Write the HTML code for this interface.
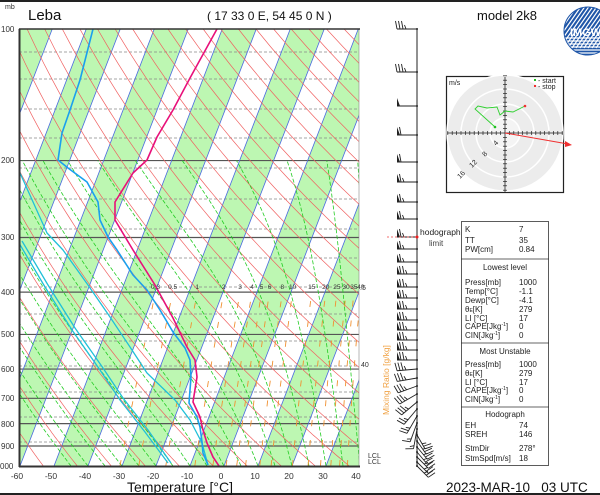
<!DOCTYPE html>
<html><head><meta charset="utf-8"><style>
html,body{margin:0;padding:0;background:#fff;}
svg{display:block;font-family:"Liberation Sans",sans-serif;}
</style></head><body>
<svg id="s" width="600" height="495" viewBox="0 0 600 495" xmlns="http://www.w3.org/2000/svg">
<defs>
<clipPath id="pc"><rect x="19" y="29" width="340" height="437"/></clipPath>
<clipPath id="lc"><circle cx="588" cy="31" r="24"/></clipPath>
</defs>
<rect x="0" y="0" width="600" height="495" fill="#fff"/>
<line x1="0" y1="1" x2="600" y2="1" stroke="#222" stroke-width="2"/>
<line x1="0" y1="494" x2="600" y2="494" stroke="#222" stroke-width="2"/>
<g id="plot" clip-path="url(#pc)"></g>
<g id="prof" clip-path="url(#pc)"></g>
<rect x="19" y="29" width="340" height="437" fill="none" stroke="#888" stroke-width="0.6"/>
<line x1="19.5" y1="29" x2="19.5" y2="467" stroke="#333" stroke-width="2"/>
<line x1="19" y1="466.5" x2="360" y2="466.5" stroke="#333" stroke-width="2"/>
<line x1="19" y1="29" x2="360" y2="29" stroke="#333" stroke-width="1.5"/>
<g font-size="8" fill="#333">
<text x="5" y="9" font-size="7">mb</text>
<text x="1" y="32">100</text><text x="1" y="163">200</text><text x="1" y="240">300</text><text x="1" y="295">400</text>
<text x="1" y="337">500</text><text x="1" y="372">600</text><text x="1" y="401">700</text><text x="1" y="427">800</text>
<text x="1" y="449">900</text><text x="0" y="469">000</text>
</g>
<g font-size="8.5" fill="#333" text-anchor="middle">
<text x="17" y="479">-60</text><text x="51" y="479">-50</text><text x="85" y="479">-40</text><text x="119" y="479">-30</text>
<text x="153" y="479">-20</text><text x="187" y="479">-10</text><text x="221" y="479">0</text><text x="255" y="479">10</text>
<text x="289" y="479">20</text><text x="323" y="479">30</text><text x="356" y="479">40</text>
</g>
<text x="180" y="492" font-size="14" text-anchor="middle" fill="#111">Temperature [°C]</text>
<text x="28" y="20" font-size="15" fill="#111">Leba</text>
<text x="207" y="20" font-size="12" fill="#111">( 17 33 0 E, 54 45 0 N )</text>
<text x="477" y="20" font-size="13" fill="#111">model 2k8</text>
<text x="446" y="492" font-size="13.5" fill="#111">2023-MAR-10 &#160; 03 UTC</text>
<text x="360" y="290" font-size="7" fill="#333">.5</text>
<text x="361" y="367" font-size="7" fill="#333">40</text>
<text transform="translate(389,415) rotate(-90)" font-size="8.5" fill="#f0a040">Mixing Ratio [g/kg]</text>
<text x="368" y="458" font-size="7" fill="#333">LCL</text>
<text x="368" y="464" font-size="7" fill="#333">LCL</text>
<g id="mrl" font-size="6.5" fill="#333"></g>
<line x1="417" y1="29" x2="417" y2="466" stroke="#222" stroke-width="1"/>
<g id="barbs" stroke="#222" stroke-width="0.9" fill="#222"></g>
<line x1="387" y1="237" x2="417" y2="237" stroke="#f04040" stroke-width="0.7" stroke-dasharray="2,2"/>
<circle cx="417" cy="237" r="1.5" fill="#f02020"/>
<text x="420" y="235" font-size="8.5" fill="#222">hodograph</text>
<text x="429" y="246" font-size="8" fill="#444">limit</text>
<rect x="446.5" y="76.5" width="117" height="116" fill="#fff" stroke="#222" stroke-width="1.2"/>
<g>
<circle cx="505" cy="133" r="58" fill="#ececec" stroke="#fff" stroke-width="1.5"/>
<circle cx="505" cy="133" r="44" fill="#ececec" stroke="#fff" stroke-width="1.5"/>
<circle cx="505" cy="133" r="29" fill="#ececec" stroke="#fff" stroke-width="1.5"/>
<circle cx="505" cy="133" r="15" fill="#f4f4f4" stroke="#fff" stroke-width="1.5"/>
<line x1="447" y1="133" x2="563" y2="133" stroke="#222" stroke-width="0.8"/>
<line x1="505" y1="77" x2="505" y2="192" stroke="#222" stroke-width="0.8"/>
<g id="hticks" stroke="#222" stroke-width="0.7"></g>
<g font-size="7" fill="#222">
<text transform="translate(496,146) rotate(-45)">4</text>
<text transform="translate(485,157) rotate(-45)">8</text>
<text transform="translate(472,168) rotate(-45)">12</text>
<text transform="translate(460,179) rotate(-45)">16</text>
<text x="449" y="85">m/s</text>
<rect x="534" y="79" width="2" height="2" fill="#20c020"/><text x="538" y="83">- start</text>
<rect x="534" y="85" width="2" height="2" fill="#f03030"/><text x="538" y="89">- stop</text>
</g>
<polyline points="495,127 475,109 478,106 487,108 497,107 500,115 505,111 513,112 525,106" fill="none" stroke="#30d030" stroke-width="0.9"/>
<circle cx="495" cy="127" r="1.3" fill="#20c020"/>
<circle cx="525" cy="106" r="1.3" fill="#f03030"/>
<line x1="505" y1="133" x2="568" y2="144" stroke="#f03030" stroke-width="1"/>
<polygon points="572,145 565,141 565,147" fill="#f03030"/>
</g>
<g clip-path="url(#lc)">
<circle cx="588" cy="31" r="24" fill="#1f56a8"/>
<g id="logo" stroke="#fff" stroke-width="1.2"></g>
<text x="570" y="36" font-size="11" font-weight="bold" fill="#fff">IMGW</text>
</g>
<circle cx="588" cy="31" r="24" fill="none" stroke="#1f56a8" stroke-width="1"/>
<rect x="461.5" y="221.5" width="87" height="244" fill="#fff" stroke="#333" stroke-width="0.8"/>
<line x1="461" y1="259" x2="549" y2="259" stroke="#333" stroke-width="0.8"/>
<line x1="461" y1="343" x2="549" y2="343" stroke="#333" stroke-width="0.8"/>
<line x1="461" y1="407" x2="549" y2="407" stroke="#333" stroke-width="0.8"/>
<g font-size="8" fill="#222">
<text x="465" y="232">K</text><text x="519" y="232">7</text>
<text x="465" y="243">TT</text><text x="519" y="243">35</text>
<text x="465" y="252">PW[cm]</text><text x="519" y="252">0.84</text>
<text x="505" y="270" text-anchor="middle">Lowest level</text>
<text x="465" y="285">Press[mb]</text><text x="519" y="285">1000</text>
<text x="465" y="294">Temp[°C]</text><text x="519" y="294">-1.1</text>
<text x="465" y="303">Dewp[°C]</text><text x="519" y="303">-4.1</text>
<text x="465" y="312">θ<tspan font-size="5">E</tspan>[K]</text><text x="519" y="312">279</text>
<text x="465" y="321">LI [°C]</text><text x="519" y="321">17</text>
<text x="465" y="329">CAPE[Jkg<tspan font-size="5" dy="-3">-1</tspan><tspan dy="3">]</tspan></text><text x="519" y="329">0</text>
<text x="465" y="338">CIN[Jkg<tspan font-size="5" dy="-3">-1</tspan><tspan dy="3">]</tspan></text><text x="519" y="338">0</text>
<text x="505" y="354" text-anchor="middle">Most Unstable</text>
<text x="465" y="367">Press[mb]</text><text x="519" y="367">1000</text>
<text x="465" y="376">θ<tspan font-size="5">E</tspan>[K]</text><text x="519" y="376">279</text>
<text x="465" y="385">LI [°C]</text><text x="519" y="385">17</text>
<text x="465" y="393">CAPE[Jkg<tspan font-size="5" dy="-3">-1</tspan><tspan dy="3">]</tspan></text><text x="519" y="393">0</text>
<text x="465" y="402">CIN[Jkg<tspan font-size="5" dy="-3">-1</tspan><tspan dy="3">]</tspan></text><text x="519" y="402">0</text>
<text x="505" y="417" text-anchor="middle">Hodograph</text>
<text x="465" y="428">EH</text><text x="519" y="428">74</text>
<text x="465" y="437">SREH</text><text x="519" y="437">146</text>
<text x="465" y="451">StmDir</text><text x="519" y="451">278°</text>
<text x="465" y="461">StmSpd[m/s]</text><text x="519" y="461">18</text>
</g>
</svg>
<script>
(function(){
var NS="http://www.w3.org/2000/svg";
function Y(p){return 29+437*Math.log10(p/100);}
function X(T,p){return 20+(T+60)*3.4+(466-Y(p))*0.385;}
function el(par,tag,a){var e=document.createElementNS(NS,tag);for(var k in a)e.setAttribute(k,a[k]);par.appendChild(e);return e;}
var g=document.getElementById("plot");
for(var T=-150;T<=50;T+=20){
 var pts=[X(T,1000),466,X(T+10,1000),466,X(T+10,100),29,X(T,100),29];
 el(g,"polygon",{points:pts.join(" "),fill:"#bdf7b2"});
}
[52,79,109,138,168,199,229,258,287,314,341,366,392,417,442].forEach(function(y){
 el(g,"line",{x1:19,y1:y,x2:360,y2:y,stroke:"#888","stroke-width":0.8,"stroke-dasharray":"3,2"});
});
[200,300,400,500,600,700,800,900].forEach(function(p){
 var y=Y(p);el(g,"line",{x1:19,y1:y,x2:360,y2:y,stroke:"#555","stroke-width":1.2});
});
for(var T=-160;T<=50;T+=10){
 el(g,"line",{x1:X(T,1000),y1:466,x2:X(T,100),y2:29,stroke:"#4a6ae0","stroke-width":0.8});
}
for(var th=200;th<=500;th+=10){
 var a=[];for(var p=1000;p>=100;p-=10){var t=th*Math.pow(p/1000,0.2857)-273.15;a.push(X(t,p).toFixed(1)+","+Y(p).toFixed(1));}
 el(g,"polyline",{points:a.join(" "),fill:"none",stroke:"#f06060","stroke-width":0.7});
}
function es(t){return 6.112*Math.exp(17.67*t/(t+243.5));}
for(var T0=-45;T0<=45;T0+=5){
 var T=T0+273.15,a=[];
 for(var p=1000;p>=200;p-=5){
  a.push(X(T-273.15,p).toFixed(1)+","+Y(p).toFixed(1));
  var e=es(T-273.15),rs=0.622*e/(p-e);
  var d=(287*T+2.5e6*rs)/(p*(1004+2.5e6*2.5e6*rs*0.622/(287*T*T)));
  T+=d*(-5);
 }
 el(g,"polyline",{points:a.join(" "),fill:"none",stroke:"#22cc22","stroke-width":0.8,"stroke-dasharray":"4,2"});
}
var ws=[0.3,0.5,1,2,3,4,5,6,8,10,15,20,25,30,35,40],ml=document.getElementById("mrl");
ws.forEach(function(w){
 var a=[];for(var p=1000;p>=400;p-=10){var e=w*p/(622+w),l=Math.log(e/6.112);var td=243.5*l/(17.67-l);a.push(X(td,p).toFixed(1)+","+Y(p).toFixed(1));}
 el(g,"polyline",{points:a.join(" "),fill:"none",stroke:"#f09030","stroke-width":0.9,"stroke-dasharray":"6,14"});
 var e=w*400/(622+w),l=Math.log(e/6.112),td=243.5*l/(17.67-l),x=X(td,400);
 if(x<362){var t=el(ml,"text",{x:x,y:289,"text-anchor":"middle"});t.textContent=(w==0.3?"0.3":w==0.5?"0.5":String(w));}
});
var pr=document.getElementById("prof");
function pl(pts,c,w){el(pr,"polyline",{points:pts,fill:"none",stroke:c,"stroke-width":w,"stroke-linejoin":"round"});}
pl("19,243 45,287 72,330 100,370 120,400 145,432 168,463","#20c0d8",1.3);
pl("22,241 48,285 75,328 103,368 123,398 148,430 171,463","#20c0d8",1.3);
pl("20,173 47,233 63,250 88,285 110,317 130,347 147,373 175,400 190,420 202,443 208,465","#20c0d8",1.3);
pl("93,29 80,80 70,110 62,133 58,160 68,168 87,182 98,202 100,220 108,237 117,250 133,275 147,290 160,310 173,332 185,348 190,360 191,377 189,403 197,417 200,427 202,442 203,453 208,465","#1aa0ee",1.6);
pl("217,29 190,78 173,110 157,137 147,160 133,173 115,202 115,220 133,250 155,285 173,318 187,347 195,360 197,377 193,402 200,417 203,430 207,443 213,457 219,466","#e8107a",1.6);
var b=document.getElementById("barbs");
var lv=[[29,0,0,4,20],[72,0,0,4,20],[106,0,1,0,10],[135,0,1,1,10],[162,0,1,1,5],[182,0,1,2,5],[202,0,1,2,4],[219,0,1,2,4],[237,0,1,2,3],[249,0,1,2,3],[262,0,1,2,2],[274,0,1,3,2],[287,0,1,3,2],[298,0,1,3,2],[309,0,1,3,2],[320,0,1,3,2],[330,0,1,3,2],[340,0,1,3,2],[350,0,1,3,2],[360,0,1,3,2],[369,5,0,4,2],[378,10,0,4,2],[386,20,0,4,2],[394,30,0,4,2],[402,40,0,4,2],[409,50,0,3,2],[416,60,0,3,2],[423,70,0,2,2],[429,80,0,2,2],[435,120,0,3,2],[441,125,0,3,2],[447,130,0,3,2],[452,130,0,3,2],[457,135,0,3,2],[462,135,0,3,2],[466,135,0,3,2]];
lv.forEach(function(v){
 var y=v[0],ang=v[1]*Math.PI/180,L=(v[1]>=120?16:20);
 var dx=-Math.cos(ang),dy=Math.sin(ang);
 var ex=417+dx*L,ey=y+dy*L;
 el(b,"line",{x1:417,y1:y,x2:ex,y2:ey});
 el(b,"circle",{cx:417,cy:y,r:1,stroke:"none"});
 var px=dy,py=-dx; if(py>0){px=-px;py=-py;}
 var pos=0;
 for(var i=0;i<v[2];i++){var bx=ex+(-dx)*pos,by=ey+(-dy)*pos;
  el(b,"polygon",{points:bx+","+by+" "+(bx-dx*3)+","+(by-dy*3)+" "+(bx+px*8)+","+(by+py*8),stroke:"none"});pos+=4;}
 for(var i=0;i<v[3];i++){var bx=ex+(-dx)*pos,by=ey+(-dy)*pos;
  var len=(i==v[3]-1&&v[3]>1)?4:8;
  el(b,"line",{x1:bx,y1:by,x2:bx+px*len+dx*1.5,y2:by+py*len+dy*1.5});pos+=3;}
});
var h=document.getElementById("hticks");
for(var i=-13;i<=13;i++){if(i==0)continue;var d=i*4.4;
 el(h,"line",{x1:505+d,y1:131,x2:505+d,y2:135});el(h,"line",{x1:503,y1:133+d,x2:507,y2:133+d});}
var lg=document.getElementById("logo");
for(var i=-60;i<=60;i+=4){el(lg,"line",{x1:564+i,y1:48,x2:594+i,y2:5});}
for(var y=38;y<=56;y+=3){el(lg,"line",{x1:560,y1:y,x2:612,y2:y,"stroke-width":1.3});}
})();
</script>
</body></html>
